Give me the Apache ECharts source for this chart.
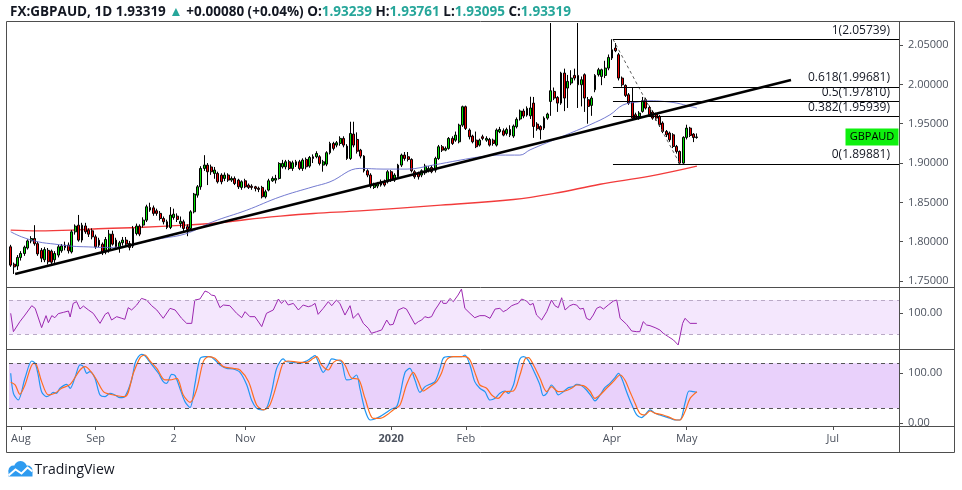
<!DOCTYPE html>
<html>
<head>
  <meta charset="utf-8">
  <title>FX:GBPAUD 1D</title>
  <script src="https://cdn.jsdelivr.net/npm/echarts@6/dist/echarts.min.js"></script>
  <style>
    html, body { margin: 0; padding: 0; background: #fff; }
    #chart { width: 962px; height: 490px; }
  </style>
</head>
<body>
<div id="chart"></div>
<script>
  // daily candles, one row per trading day from 29 Jul 2019: [open, close, low, high]
  var candles = [
    [1.7935,1.7702,1.7680,1.7960],[1.7714,1.7680,1.7590,1.7735],[1.7690,1.7800,1.7640,1.7830],[1.7800,1.7850,1.7760,1.7880],
    [1.7850,1.7930,1.7820,1.7950],[1.7920,1.8010,1.7900,1.8030],[1.8010,1.8040,1.7980,1.8070],[1.8040,1.7975,1.7950,1.8210],
    [1.7975,1.7845,1.7820,1.8000],[1.7890,1.7790,1.7740,1.7920],[1.7770,1.7900,1.7740,1.7930],[1.7890,1.7745,1.7710,1.7920],
    [1.7880,1.7740,1.7700,1.7900],[1.7770,1.7850,1.7730,1.7880],[1.7830,1.7935,1.7800,1.7960],[1.7885,1.7945,1.7860,1.7970],
    [1.7925,1.7957,1.7890,1.8000],[1.7957,1.7885,1.7850,1.7990],[1.7870,1.8125,1.7850,1.8150],[1.8125,1.8198,1.8090,1.8220],
    [1.8210,1.8020,1.8000,1.8340],[1.8020,1.8210,1.7990,1.8240],[1.8200,1.8126,1.8100,1.8240],[1.8147,1.8096,1.8060,1.8170],
    [1.8138,1.8062,1.8030,1.8170],[1.8062,1.7935,1.7910,1.8090],[1.8020,1.7956,1.7930,1.8050],[1.7968,1.7859,1.7830,1.7990],
    [1.7871,1.8028,1.7840,1.8060],[1.7892,1.8096,1.7860,1.8150],[1.8096,1.7969,1.7950,1.8140],[1.8020,1.7935,1.7900,1.8050],
    [1.7926,1.7986,1.7860,1.8010],[1.7986,1.8020,1.7950,1.8060],[1.8020,1.7969,1.7940,1.8060],[1.7977,1.7927,1.7890,1.8010],
    [1.7944,1.8168,1.7920,1.8200],[1.8104,1.8198,1.8080,1.8230],[1.8198,1.8096,1.8070,1.8220],[1.8211,1.8274,1.8180,1.8310],
    [1.8274,1.8444,1.8250,1.8470],[1.8435,1.8402,1.8380,1.8495],[1.8430,1.8360,1.8330,1.8460],[1.8393,1.8360,1.8330,1.8420],
    [1.8360,1.8295,1.8270,1.8390],[1.8295,1.8253,1.8220,1.8320],[1.8253,1.8181,1.8160,1.8280],[1.8181,1.8338,1.8160,1.8440],
    [1.8308,1.8350,1.8280,1.8420],[1.8325,1.8283,1.8250,1.8360],[1.8230,1.8260,1.8180,1.8320],
    [1.8253,1.8168,1.8130,1.8280],[1.8190,1.8155,1.8070,1.8220],[1.8168,1.8380,1.8140,1.8400],[1.8380,1.8605,1.8360,1.8620],
    [1.8592,1.8698,1.8560,1.8720],[1.8698,1.8931,1.8660,1.8960],[1.8931,1.8974,1.8900,1.9100],[1.8974,1.8889,1.8720,1.9000],
    [1.8950,1.8889,1.8850,1.8980],[1.8868,1.8910,1.8800,1.8950],[1.8868,1.8762,1.8740,1.8890],[1.8847,1.8762,1.8730,1.8870],
    [1.8804,1.8847,1.8770,1.8880],[1.8847,1.8783,1.8760,1.8870],[1.8783,1.8804,1.8760,1.8830],[1.8804,1.8740,1.8720,1.8830],
    [1.8783,1.8698,1.8670,1.8800],[1.8690,1.8762,1.8660,1.8780],[1.8774,1.8698,1.8680,1.8800],[1.8719,1.8690,1.8670,1.8740],
    [1.8706,1.8690,1.8660,1.8730],[1.8698,1.8677,1.8640,1.8710],[1.8680,1.8665,1.8630,1.8700],[1.8690,1.8571,1.8550,1.8710],
    [1.8571,1.8635,1.8550,1.8660],[1.8656,1.8774,1.8640,1.8800],[1.8774,1.8804,1.8760,1.8830],[1.8783,1.8804,1.8740,1.8850],
    [1.8804,1.8995,1.8790,1.9010],[1.8952,1.8995,1.8930,1.9040],[1.8952,1.9016,1.8920,1.9040],[1.9016,1.8931,1.8910,1.9040],
    [1.8931,1.9003,1.8900,1.9030],[1.8974,1.9016,1.8950,1.9040],[1.9016,1.8931,1.8910,1.9040],[1.8931,1.9037,1.8900,1.9060],
    [1.9046,1.8952,1.8920,1.9070],[1.8961,1.9071,1.8940,1.9090],[1.9080,1.9058,1.9000,1.9110],[1.9080,1.9122,1.9060,1.9150],
    [1.9080,1.8995,1.8970,1.9100],[1.8974,1.9016,1.8890,1.9040],[1.8986,1.9131,1.8960,1.9150],[1.9131,1.9249,1.9110,1.9270],
    [1.9249,1.9186,1.9160,1.9270],[1.9228,1.9258,1.9200,1.9280],[1.9249,1.9313,1.9220,1.9340],[1.9313,1.9228,1.9200,1.9340],
    [1.9215,1.9058,1.9040,1.9240],[1.9058,1.9376,1.9040,1.9525],[1.9368,1.9228,1.9200,1.9525],[1.9300,1.9150,1.9120,1.9390],
    [1.9164,1.9088,1.9060,1.9180],[1.9088,1.8902,1.8880,1.9100],[1.8902,1.8847,1.8820,1.8920],[1.8847,1.8707,1.8680,1.8870],
    [1.8690,1.8728,1.8670,1.8750],[1.8707,1.8741,1.8680,1.8760],[1.8720,1.8762,1.8700,1.8790],[1.8762,1.8720,1.8700,1.8790],
    [1.8762,1.8889,1.8740,1.8910],[1.8889,1.8783,1.8760,1.8910],[1.8783,1.8847,1.8760,1.8870],[1.8825,1.8974,1.8800,1.8990],
    [1.8974,1.9101,1.8950,1.9120],[1.9101,1.9058,1.9030,1.9140],[1.9080,1.9046,1.9020,1.9140],[1.9046,1.8902,1.8880,1.9060],
    [1.8889,1.8825,1.8800,1.8910],[1.8870,1.8825,1.8790,1.8890],[1.8847,1.8902,1.8820,1.8920],[1.8876,1.8961,1.8850,1.8990],
    [1.8902,1.8931,1.8880,1.8960],[1.8944,1.8889,1.8870,1.8970],[1.8910,1.9058,1.8880,1.9080],[1.9058,1.9207,1.9040,1.9230],
    [1.9207,1.9164,1.9140,1.9230],[1.9164,1.9186,1.9150,1.9210],[1.9186,1.9313,1.9170,1.9330],[1.9313,1.9249,1.9230,1.9340],
    [1.9291,1.9355,1.9270,1.9400],[1.9270,1.9482,1.9250,1.9500],[1.9482,1.9716,1.9460,1.9730],[1.9716,1.9440,1.9420,1.9730],
    [1.9419,1.9334,1.9300,1.9440],[1.9343,1.9270,1.9250,1.9360],[1.9291,1.9207,1.9190,1.9400],[1.9228,1.9291,1.9210,1.9310],
    [1.9334,1.9313,1.9290,1.9360],[1.9291,1.9313,1.9270,1.9340],[1.9300,1.9228,1.9210,1.9320],[1.9291,1.9249,1.9220,1.9310],
    [1.9228,1.9419,1.9210,1.9440],[1.9398,1.9427,1.9380,1.9460],[1.9410,1.9355,1.9340,1.9440],[1.9376,1.9427,1.9350,1.9450],
    [1.9427,1.9355,1.9330,1.9480],[1.9343,1.9470,1.9320,1.9490],[1.9462,1.9555,1.9440,1.9580],[1.9560,1.9661,1.9540,1.9680],
    [1.9661,1.9597,1.9570,1.9690],[1.9610,1.9695,1.9590,1.9720],
    [1.9600,1.9700,1.9560,1.9843],[1.9762,1.9465,1.9320,1.9840],[1.9495,1.9436,1.9410,1.9520],[1.9465,1.9423,1.9300,1.9480],
    [1.9444,1.9571,1.9420,1.9593],[1.9571,1.9622,1.9550,1.9640],[1.9783,1.9919,1.9600,2.0780],[1.9911,1.9826,1.9800,1.9960],
    [1.9834,1.9762,1.9650,1.9850],[1.9762,2.0144,1.9740,2.0160],[2.0144,1.9826,1.9660,2.0200],[1.9953,2.0038,1.9700,2.0120],
    [2.0017,2.0080,1.9990,2.0180],[2.0114,2.0080,2.0050,2.0200],[2.0114,1.9995,1.9700,2.0780],[1.9995,2.0059,1.9720,2.0100],
    [2.0123,1.9826,1.9650,2.0140],[1.9805,1.9720,1.9500,1.9840],[1.9733,1.9826,1.9600,1.9850],[1.9932,2.0114,1.9900,2.0130],
    [2.0123,2.0186,2.0100,2.0210],[2.0101,2.0186,1.9990,2.0200],[2.0114,2.0207,2.0080,2.0300],[2.0207,2.0343,2.0180,2.0380],
    [2.0335,2.0440,2.0310,2.0574],[2.0462,2.0428,2.0410,2.0525],[2.0377,2.0080,2.0050,2.0400],[2.0080,1.9995,1.9970,2.0100],
    [1.9987,1.9860,1.9840,2.0000],[1.9868,1.9762,1.9740,1.9890],[1.9783,1.9571,1.9550,1.9953],[1.9614,1.9571,1.9550,1.9640],
    [1.9571,1.9635,1.9550,1.9660],[1.9656,1.9792,1.9640,1.9840],[1.9805,1.9699,1.9680,1.9830],[1.9707,1.9614,1.9590,1.9730],
    [1.9648,1.9571,1.9550,1.9670],[1.9622,1.9571,1.9540,1.9640],[1.9593,1.9487,1.9460,1.9610],[1.9508,1.9402,1.9380,1.9530],
    [1.9402,1.9359,1.9330,1.9420],[1.9381,1.9296,1.9270,1.9400],[1.9359,1.9211,1.9190,1.9380],[1.9211,1.9147,1.9120,1.9230],
    [1.9147,1.8999,1.8988,1.9160],[1.8999,1.9326,1.8990,1.9340],[1.9326,1.9444,1.9300,1.9487],[1.9444,1.9351,1.9330,1.9460],
    [1.9368,1.93239,1.9266,1.9380],[1.93239,1.93319,1.93095,1.93761]
  ];

  // moving averages: [day index, price]
  var ma50 = [[0,1.8126],[3.2,1.8062],[8.1,1.7998],[13,1.7969],[18,1.7943],[22.8,1.7934],[27.8,1.7927],[32.7,1.7934],
    [35.6,1.7956],[39.5,1.7998],[44.4,1.8041],[51.5,1.8100],[59.5,1.8253],[69.5,1.8401],[79.3,1.8570],[89,1.8698],
    [94,1.8761],[102.8,1.8932],[109.6,1.8923],[116.7,1.8923],[124.3,1.8974],[132.3,1.9037],[138.2,1.9079],[144,1.9101],
    [149.9,1.9101],[152.9,1.9168],[162.6,1.9342],[170.5,1.9486],[176.4,1.9613],[180.2,1.9737],[184.4,1.9775],
    [188.2,1.9792],[192,1.9784],[196.1,1.9762],[200,1.9720],[202,1.9700]];
  var ma200 = [[0,1.8147],[8.1,1.8138],[18,1.8147],[27.8,1.8168],[37.6,1.8181],[51.3,1.8210],[61.6,1.8240],
    [69.5,1.8283],[79.3,1.8325],[89.1,1.8359],[102.8,1.8392],[126.6,1.8465],[148,1.8537],[160,1.8614],
    [173.5,1.8731],[188.2,1.8834],[202,1.8961]];

  // drawings
  var trendLine = [[1.3,1.7589],[229.7,2.0055]];
  var fibLevels = ['1', '0.618', '0.5', '0.382', '0'];
  var fibPrices = [2.05739, 1.99681, 1.97810, 1.95939, 1.89881];
  var fibStart = 177.3, fibLowIdx = 197;

  // RSI and stochastic: [day index, value]
  var rsi = [[0,54.5],[0.8,33.1],[1.3,32],[2.7,44.8],[4.2,52.5],[6.2,63.4],[7.2,60.3],[9.1,37.8],[10.4,51.8],[11.1,43.6],
    [12.1,51.8],[13,49.4],[14,54.1],[15.5,55.6],[17,57.2],[17.5,50.2],[18.4,66.1],[19.4,68.1],[20.4,59.5],[21.4,63],
    [22.9,58.4],[24.3,54.5],[26.3,42.8],[27.8,53.3],[28.7,55.6],[29.7,46.7],[31.2,50.6],[32.7,48.7],[33.6,47.5],[34.6,61.1],
    [35.6,58.4],[37.1,64.2],[38.5,71.9],[40,70],[41.5,63.4],[43,58.4],[44.9,48.7],[46.9,60.3],[48.4,58.4],[50.3,48.7],
    [51.8,42.8],[53.3,42.8],[54.2,70],[55.7,71.2],[57.2,80.5],[58.2,78.9],[59.1,75.8],[60.1,75],[61.6,61.1],[62.6,64.2],
    [64.5,63.4],[66.5,54.5],[68,49.4],[69,56.4],[70.4,50.6],[71.9,50.6],[73.9,39],[75.3,54.5],[77.3,58.4],[78.8,71.2],
    [79.7,66.1],[80.7,70],[81.7,64.2],[83.2,66.1],[84.7,58.4],[86.1,64.2],[87.6,62.2],[88.6,63.4],[89.6,66.1],[90.5,53.3],
    [92,60.3],[93.5,68.1],[94.5,63.4],[95.9,70],[96.9,66.1],[98.4,52.5],[99.9,63.4],[100.8,48.7],[102.3,54.5],[103.8,42.8],
    [105.3,37],[106.2,31.2],[107.7,33.1],[109.2,35.1],[110.7,46.7],[111.6,40.9],[112.6,41.7],[114.1,58.4],[115.6,61.1],
    [116.5,59.5],[117.5,52.5],[119,41.7],[120,44.8],[121,46.7],[121.9,50.6],[122.9,49.4],[123.9,50.6],[124.9,58.4],
    [125.9,64.2],[126.8,70],[127.3,66.1],[128.3,66.1],[129.3,71.9],[130.3,68.1],[131.7,75.8],[132.7,82.8],[133.7,60.3],
    [135.2,54.5],[136.6,49.4],[138.1,51.8],[139.6,51.8],[141.1,48.7],[142.6,59.5],[144,60.3],[145,56.4],[146,58.4],
    [147.5,63.4],[148.5,65],[149.4,66.1],[150.4,71.2],[151.9,68.8],[152.9,64.2],[153.8,66.1],[154.8,52.5],[156.3,46.7],
    [157.8,56.4],[159.2,70],[160.2,63.4],[161.2,61.1],[162.2,72.7],[163.2,58.4],[164.6,63.4],[165.6,65],[166.6,64.2],
    [167.6,59.5],[168.6,60.3],[169.5,48.7],[170.5,46.7],[171.5,52.5],[172.5,60.3],[173.5,62.2],[174.5,59.5],[175.9,64.2],
    [177.4,68.8],[178.4,70],[179.4,48.7],[181.3,41.7],[182.8,33.9],[184.3,33.1],[185.2,33.1],[186.2,44.8],[187.2,40.9],
    [188.2,40.1],[189.7,37.8],[191.1,35.1],[192.1,31.2],[193.6,27.3],[195.1,23.4],[196.5,17.6],[197.8,42.8],[198.5,48.7],
    [200,42.8],[202,42.8]];
  var stochK = [[0,66.7],[0.8,40],[2.2,31.1],[4.2,60],[6.2,83.1],[7.2,80],[8.1,64.4],[9.1,42.2],[10.6,35.6],[11.6,37.8],
    [12.5,41.3],[13.5,40],[14.5,46.7],[16.5,52],[17.5,46.7],[19,62.2],[20.4,77.8],[21.4,75.6],[22.4,66.7],[23.3,68.9],
    [24.8,60],[26.3,37.8],[27.8,35.6],[29.2,40],[30.7,37.8],[32.2,34.2],[33.6,35.6],[35.6,57.8],[36.6,80],[37.6,88.9],
    [38.5,92],[39.5,90.2],[40.5,84.4],[42,75.6],[43.5,66.7],[44.9,55.6],[45.9,53.3],[47.4,65.3],[48.4,63.6],[49.8,46.7],
    [51.3,28.9],[52.8,20.9],[54.2,51.1],[55.7,85.8],[57.2,88.9],[58.7,88.9],[60.1,84.4],[61.6,77.8],[63.6,73.3],[65.5,72.4],
    [67.5,68],[69.5,51.1],[70.9,31.1],[72.4,20],[73.9,17.8],[75.3,20],[76.8,42.2],[78.3,73.3],[80.2,85.8],[81.2,82.2],
    [83.2,81.3],[85.1,80],[87.1,83.1],[88.6,87.6],[89.6,90.2],[90.5,82.2],[92,68],[93.5,77.8],[94.5,85.8],[96,84.4],
    [97.4,82.2],[98.9,57.8],[100.4,59.1],[101.8,64.4],[102.8,46.7],[104.3,17.8],[105.8,4.4],[107.2,5.8],[108.7,8.9],
    [110.7,14.7],[112.1,19.1],[113.6,22.2],[114.6,37.8],[116.1,68],[117.5,73.3],[119,57.8],[120.5,41.3],[122,48.9],
    [123.4,52],[124.9,55.6],[126.4,73.3],[127.3,86.7],[128.8,88.9],[131.3,88.9],[132.7,88.9],[133.7,91.1],[135.2,77.8],
    [136.6,55.6],[138.1,46.7],[139.6,42.2],[141.1,31.1],[142.6,33.3],[144,40],[145.5,43.1],[146.5,40],[148,51.1],[148.9,68.9],
    [149.9,85.8],[150.9,88.9],[151.9,86.7],[152.9,80],[154.3,66.7],[155.8,51.1],[156.8,36.9],[157.8,40],[159.2,51.1],
    [160.2,45.8],[161.2,37.8],[162.7,42.2],[164.2,47.6],[165.6,48.9],[166.6,52],[168.1,50.2],[169.5,44.4],[171,35.6],
    [172,29.8],[173.5,37.8],[174.9,47.6],[176.4,53.3],[177.9,60.9],[178.9,66.7],[179.8,60.9],[181.3,42.2],[182.8,25.3],
    [184.3,11.1],[185.7,7.6],[186.7,11.1],[188.2,17.8],[189.7,13.3],[191.1,11.1],[192.6,8.9],[194.1,6.7],[195.5,4.4],
    [197,4.4],[198.5,26.7],[199.7,43.1],[200.9,42.2],[202,41.3]];
  var stochD = [[0,54.7],[1.3,51.1],[2.7,38.7],[4.2,51.1],[6.7,80],[7.6,77.8],[9.1,55.6],[11.1,37.8],[13,40],[15,46.7],
    [17.5,52],[20.4,71.1],[21.9,75.6],[23.8,68],[25.3,57.8],[27.3,42.2],[29.2,38.7],[33.6,35.6],[36.1,66.7],[38.1,87.6],
    [39.5,91.1],[41,83.1],[43,73.3],[45.4,57.8],[46.9,57.8],[48.9,60],[50.8,37.8],[52.8,28],[54.7,44.4],[56.7,82.2],
    [58.2,88.9],[60.1,86.7],[62.6,75.6],[65.5,73.3],[67.5,71.1],[70,55.6],[72.4,24.4],[74.4,17.8],[76.3,24.4],[78.8,60],
    [80.2,80],[81.7,83.1],[85.1,81.3],[87.1,81.3],[89.1,86.7],[90.1,88.9],[91.5,77.8],[93.5,71.1],[95,81.3],[96.9,84.4],
    [98.4,77.8],[100.4,60],[102.3,59.1],[104.3,33.3],[106.7,6.7],[108.7,6.7],[110.7,11.1],[112.6,17.8],[114.6,24.4],
    [116.5,51.1],[118.5,68],[120,55.6],[121.4,43.1],[123.4,48.9],[125.4,55.6],[126.8,66.7],[128.3,84.4],[130.3,88.9],
    [133.7,88.9],[135.2,84.4],[137.1,62.2],[138.1,51.1],[140.1,46.7],[141.6,37.8],[143.5,33.3],[145.5,42.2],[148,43.1],
    [149.9,64.4],[151.4,85.8],[152.4,87.6],[153.9,77.8],[155.8,60],[157.8,42.2],[159.2,48.9],[161.2,42.2],[163.2,43.1],
    [165.1,46.7],[166.6,51.1],[168.6,50.2],[170.5,43.1],[172,33.3],[173.5,37.8],[175.4,46.7],[177.4,55.6],[179.4,64.4],
    [180.8,57.8],[182.3,42.2],[183.8,26.7],[185.2,13.3],[186.7,11.1],[188.2,16.4],[189.8,13.3],[192.1,11.1],[194.1,7.6],
    [196,4.4],[197,4.4],[198.5,15.6],[200,33.3],[202,42.2]];

  // axis ticks
  var priceTicks = [1.75, 1.80, 1.85, 1.90, 1.95, 2.00, 2.05];
  var rsiTickAt = [54.8], rsiTickText = ['100.00'];
  var stochTickAt = [0, 67], stochTickText = ['0.00', '100.00'];
  var monthTickIdx = [3, 25, 48, 69, 112, 134, 177, 199, 242];
  var monthTickText = ['Aug', 'Sep', '2', 'Nov', '2020', 'Feb', 'Apr', 'May', 'Jul'];
  var slots = 262;   // trading days across the visible window (to end of Jul 2020)

  var font = 'Open Sans';
  var axisColor = '#4e4e4e';
  var lastIdx = candles.length - 1;
  var last = candles[lastIdx], prev = candles[lastIdx - 1];
  var chg = last[1] - prev[1];
  var slotIdx = [];
  for (var s = 0; s < slots; s++) slotIdx.push(s);

  function f5(v) { return v.toFixed(5); }
  function pick(ticks, texts) {
    return function (v) {
      for (var k = 0; k < ticks.length; k++) if (Math.abs(ticks[k] - v) < 1e-6) return texts[k];
      return '';
    };
  }

  var chart = echarts.init(document.getElementById('chart'));

  var header = '{b|FX:GBPAUD, 1D} {n|' + f5(last[1]) + '} {g|▲} {n|' + (chg >= 0 ? '+' : '') + f5(chg) +
    ' (' + (chg >= 0 ? '+' : '') + (chg / prev[1] * 100).toFixed(2) + '%)} ' +
    '{b|O:}{g|' + f5(last[0]) + '} {b|H:}{g|' + f5(last[3]) + '} {b|L:}{g|' + f5(last[2]) + '} {b|C:}{g|' + f5(last[1]) + '}';

  function hiddenX(grid) {
    return { type: 'value', gridIndex: grid, min: -0.5, max: slots - 0.5, show: false, splitLine: { show: false } };
  }
  function rightAxis(grid, min, max, ticks, fmt) {
    return {
      type: 'value', gridIndex: grid, position: 'right', min: min, max: max,
      splitLine: { show: false },
      axisLine: { show: false, onZero: false },
      axisTick: { show: true, customValues: ticks, length: 4, lineStyle: { color: axisColor } },
      axisLabel: { customValues: ticks, formatter: fmt, margin: 9, fontSize: 11, color: '#4c525e' }
    };
  }

  chart.setOption({
    animation: false,
    textStyle: { fontFamily: font },
    title: {
      left: 5, top: 0,
      text: header,
      textStyle: {
        fontSize: 13.5,
        rich: {
          b: { fontWeight: 'bold', fontSize: 13.5, color: '#131722', fontFamily: font },
          n: { fontSize: 13.5, color: '#131722', fontFamily: font },
          g: { fontSize: 13.5, color: '#26a69a', fontFamily: font }
        }
      }
    },
    grid: [
      { left: 9, right: 63, top: 22, height: 265 },
      { left: 9, right: 63, top: 287, height: 62 },
      { left: 9, right: 63, top: 349, height: 77 }
    ],
    xAxis: [
      { type: 'category', gridIndex: 0, data: slotIdx, boundaryGap: true, show: false },
      hiddenX(0),
      hiddenX(1),
      {
        type: 'value', gridIndex: 2, min: -0.5, max: slots - 0.5,
        splitLine: { show: false },
        axisLine: { show: false, onZero: false },
        axisTick: { show: true, customValues: monthTickIdx, length: 4, lineStyle: { color: axisColor } },
        axisLabel: {
          customValues: monthTickIdx, margin: 7, fontSize: 11, color: '#4c525e',
          formatter: function (v) {
            var t = pick(monthTickIdx, monthTickText)(v);
            return t === '2020' ? '{y|2020}' : t;
          },
          rich: { y: { fontWeight: 'bold', fontSize: 11, color: '#4c525e', fontFamily: font } }
        }
      }
    ],
    yAxis: [
      rightAxis(0, 1.7424, 2.0793, priceTicks, f5),
      rightAxis(1, 12.9, 85.2, rsiTickAt, pick(rsiTickAt, rsiTickText)),
      rightAxis(2, -3.6, 99.1, stochTickAt, pick(stochTickAt, stochTickText))
    ],
    series: [
      {
        name: 'MA200', type: 'line', xAxisIndex: 1, yAxisIndex: 0, data: ma200,
        smooth: 0.4, showSymbol: false, z: 2,
        lineStyle: { color: '#f23b3b', width: 1.4 },
        markLine: {
          silent: true, symbol: ['none', 'none'], label: { show: false },
          lineStyle: { color: '#5a5a5a', width: 1, type: [3, 3] },
          data: [[{ coord: [fibStart, fibPrices[0]] }, { coord: [fibLowIdx, fibPrices[4]] }]]
        }
      },
      {
        name: 'GBPAUD', type: 'candlestick', xAxisIndex: 0, yAxisIndex: 0, data: candles,
        barWidth: 2.4, z: 3,
        itemStyle: { color: '#00e000', color0: '#f00000', borderColor: '#000', borderColor0: '#000', borderWidth: 1 }
      },
      {
        name: 'MA50', type: 'line', xAxisIndex: 1, yAxisIndex: 0, data: ma50,
        smooth: 0.4, showSymbol: false, z: 4,
        lineStyle: { color: '#5a63c8', width: 1, opacity: 0.85 }
      },
      {
        name: 'Trend', type: 'line', xAxisIndex: 1, yAxisIndex: 0, data: trendLine,
        showSymbol: false, z: 5,
        lineStyle: { color: '#000', width: 2.6 },
        markLine: {
          silent: true, symbol: ['none', 'none'],
          lineStyle: { color: '#000', width: 1, type: 'solid' },
          label: {
            position: 'insideEndTop', distance: 3, offset: [-6, 0], fontSize: 12, color: '#131722',
            formatter: function (p) { return fibLevels[p.dataIndex] + '(' + f5(fibPrices[p.dataIndex]) + ')'; }
          },
          data: fibPrices.map(function (p) { return [{ coord: [fibStart, p] }, { coord: [slots - 0.5, p] }]; })
        },
        markPoint: {
          silent: true, symbol: 'rect', symbolSize: [53, 17], symbolOffset: [-27, 0],
          itemStyle: { color: '#0ef00e' },
          label: { show: true, formatter: 'GBPAUD', color: '#000', fontSize: 11 },
          data: [{ coord: [slots - 0.5, last[1]] }]
        }
      },
      {
        name: 'RSI', type: 'line', xAxisIndex: 2, yAxisIndex: 1, data: rsi,
        showSymbol: false, lineStyle: { color: '#9c27b0', width: 1 },
        markArea: { silent: true, itemStyle: { color: '#f4e7fd' }, data: [[{ yAxis: 30 }, { yAxis: 70 }]] },
        markLine: {
          silent: true, symbol: ['none', 'none'], label: { show: false },
          lineStyle: { color: '#b9a9c6', width: 1, type: [4, 4] },
          data: [{ yAxis: 70 }, { yAxis: 30 }]
        }
      },
      {
        name: '%K', type: 'line', xAxisIndex: 3, yAxisIndex: 2, data: stochK,
        smooth: 0.3, showSymbol: false, lineStyle: { color: '#2196f3', width: 1.2 },
        markArea: { silent: true, itemStyle: { color: '#e9d1fb' }, data: [[{ yAxis: 20 }, { yAxis: 80 }]] },
        markLine: {
          silent: true, symbol: ['none', 'none'], label: { show: false },
          lineStyle: { color: '#555', width: 1, type: [4, 4] },
          data: [{ yAxis: 80 }, { yAxis: 20 }]
        }
      },
      {
        name: '%D', type: 'line', xAxisIndex: 3, yAxisIndex: 2, data: stochD,
        smooth: 0.3, showSymbol: false, lineStyle: { color: '#ff6d1f', width: 1.2 }
      }
    ],
    graphic: [
      { type: 'rect', z: 50, silent: true, shape: { x: 6.5, y: 21.5, width: 948, height: 431 },
        style: { fill: 'none', stroke: axisColor, lineWidth: 1 } },
      { type: 'line', z: 50, silent: true, shape: { x1: 6.5, y1: 287.5, x2: 954.5, y2: 287.5 }, style: { stroke: axisColor } },
      { type: 'line', z: 50, silent: true, shape: { x1: 6.5, y1: 349.5, x2: 954.5, y2: 349.5 }, style: { stroke: axisColor } },
      { type: 'line', z: 50, silent: true, shape: { x1: 6.5, y1: 426.5, x2: 954.5, y2: 426.5 }, style: { stroke: axisColor } },
      { type: 'line', z: 50, silent: true, shape: { x1: 899.5, y1: 21.5, x2: 899.5, y2: 452.5 }, style: { stroke: axisColor } },
      {
        type: 'group', left: 6, top: 461, silent: true,
        children: [
          { type: 'circle', shape: { cx: 7, cy: 10, r: 5 }, style: { fill: '#2e9bf0' } },
          { type: 'circle', shape: { cx: 14, cy: 7, r: 6.5 }, style: { fill: '#2e9bf0' } },
          { type: 'circle', shape: { cx: 21, cy: 10, r: 5 }, style: { fill: '#2e9bf0' } },
          { type: 'rect', shape: { x: 2, y: 10, width: 24, height: 6 }, style: { fill: '#2e9bf0' } },
          { type: 'polyline', shape: { points: [[2, 15], [9, 9], [15, 13], [21, 7], [26, 11]] },
            style: { stroke: '#fff', lineWidth: 2, fill: 'none' } },
          { type: 'text', x: 28, y: 10, style: { text: 'TradingView', fontSize: 14, fontFamily: font,
            fill: '#131722', verticalAlign: 'middle' } }
        ]
      }
    ]
  });
</script>
</body>
</html>
